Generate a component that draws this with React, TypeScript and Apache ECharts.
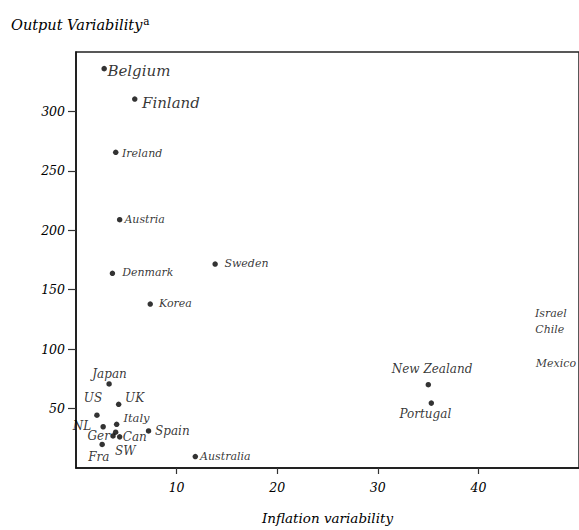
import React, { useEffect, useRef } from "react";
import * as echarts from "echarts";

const countries = ["Belgium", "Finland", "Ireland", "Austria", "Denmark", "Sweden", "Korea", "Japan", "UK", "US", "NL", "Italy", "Ger", "SW", "Can", "Fra", "Spain", "Australia", "New Zealand", "Portugal"];
const inflationVar = [2.8, 5.84, 3.95, 4.34, 3.62, 13.83, 7.38, 3.29, 4.24, 2.08, 2.7, 4.04, 3.68, 3.94, 4.34, 2.6, 7.21, 11.86, 35.02, 35.32];
const outputVar = [336, 310.4, 265.6, 208.9, 163.8, 171.6, 137.9, 70.7, 53.6, 44.4, 34.7, 36.8, 27.0, 30.1, 26.2, 19.8, 31.2, 9.6, 70.1, 54.6];

// countries whose points lie beyond the right edge: only their labels are visible
const offNames = ["Israel", "Chile", "Mexico"];
const offInflation = [47.2, 47.1, 47.7];
const offOutput = [129.9, 116.6, 87.6];

const xTicks = [10, 20, 30, 40];
const yTicks = [50, 100, 150, 200, 250, 300];

const FONT = "DejaVu Serif";

// label placement: [align, dx, dy, fontSize]
const labelLayout: Record<string, [string, number, number, number]> = {
  Belgium: ["left", 3.5, 3, 15],
  Finland: ["left", 7.5, 4.5, 15],
  Ireland: ["left", 6.5, 1, 11],
  Austria: ["left", 5, 0, 11],
  Denmark: ["left", 10, -0.5, 11],
  Sweden: ["left", 9.5, 0, 11],
  Korea: ["left", 9, 0, 11],
  Japan: ["center", 0.7, -10, 12],
  UK: ["left", 6.7, -6, 12],
  US: ["center", -3.7, -16.7, 12],
  NL: ["right", -11.6, -0.7, 12],
  Italy: ["left", 7, -6.3, 11.5],
  Ger: ["right", -2.8, 0.7, 12],
  SW: ["center", 10, 19.4, 12],
  Can: ["left", 3.3, 0, 12],
  Fra: ["center", -3, 13, 12],
  Spain: ["left", 6.7, 0, 12],
  Australia: ["left", 5, 0, 11],
  "New Zealand": ["center", 4, -15, 12],
  Portugal: ["center", -5.7, 11.6, 12],
  Israel: ["center", 0, 0, 11],
  Chile: ["center", 0, 0, 11],
  Mexico: ["center", 0, 0, 11],
};

function makeLabel(name: string, r: number) {
  const l = labelLayout[name] || ["left", 5, 0, 11];
  return {
    show: true,
    formatter: "{b}",
    position: [r + l[1], r + l[2]],
    align: l[0],
    verticalAlign: "middle",
    fontFamily: FONT,
    fontStyle: "italic",
    fontSize: l[3],
    color: "#000",
  };
}

export default function App() {
  const ref = useRef<HTMLDivElement>(null);
  useEffect(() => {
    if (!ref.current) return;
    const chart = echarts.init(ref.current, undefined, { renderer: "svg" });
    const mainData = countries.map((n, i) => ({
      name: n,
      value: [inflationVar[i], outputVar[i]],
      label: makeLabel(n, 2.5),
    }));
    const offData = offNames.map((n, i) => ({
      name: n,
      value: [offInflation[i], offOutput[i]],
      label: makeLabel(n, 0.5),
    }));
    chart.setOption({
      animation: false,
      backgroundColor: "#fff",
      title: {
        text: "Output Variability{sup|a}",
        left: 6,
        top: 10,
        textStyle: {
          fontFamily: FONT,
          fontStyle: "italic",
          fontWeight: "normal",
          fontSize: 14.5,
          color: "#000",
          rich: {
            sup: {
              fontFamily: FONT,
              fontStyle: "normal",
              fontSize: 10.5,
              color: "#000",
              verticalAlign: "bottom",
              padding: [0, 0, 9, 1],
            },
          },
        },
      },
      grid: {
        left: 76,
        top: 52,
        width: 509,
        height: 422,
        show: true,
        borderColor: "#222",
        borderWidth: 1.5,
        backgroundColor: "transparent",
      },
      xAxis: {
        type: "value",
        min: 0,
        max: 50,
        name: "Inflation variability",
        nameLocation: "middle",
        nameGap: 43,
        nameTextStyle: { fontFamily: FONT, fontStyle: "italic", fontSize: 13.5, color: "#000" },
        splitLine: { show: false },
        axisLine: { show: true, lineStyle: { color: "#111", width: 1.5 } },
        axisTick: { show: true, length: 6, customValues: xTicks, lineStyle: { color: "#333", width: 1.2 } },
        axisLabel: {
          customValues: xTicks,
          margin: 13,
          fontFamily: FONT,
          fontStyle: "italic",
          fontSize: 12.5,
          color: "#000",
        },
      },
      yAxis: {
        type: "value",
        min: 0,
        max: 350,
        splitLine: { show: false },
        axisLine: { show: true, lineStyle: { color: "#111", width: 1.5 } },
        axisTick: { show: true, length: 8, customValues: yTicks, lineStyle: { color: "#333", width: 1.2 } },
        axisLabel: {
          customValues: yTicks,
          margin: 11,
          fontFamily: FONT,
          fontStyle: "italic",
          fontSize: 12.5,
          color: "#000",
        },
      },
      series: [
        {
          type: "scatter",
          symbol: "circle",
          symbolSize: 5.5,
          itemStyle: { color: "#000" },
          data: mainData,
          labelLayout: { hideOverlap: false },
        },
        {
          type: "scatter",
          symbolSize: 1,
          itemStyle: { color: "rgba(0,0,0,0)" },
          data: offData,
        },
      ],
    });
    return () => chart.dispose();
  }, []);
  return (
    <div
      ref={ref}
      style={{ position: "fixed", left: 0, top: 0, width: 579, height: 530, background: "#fff" }}
    />
  );
}
